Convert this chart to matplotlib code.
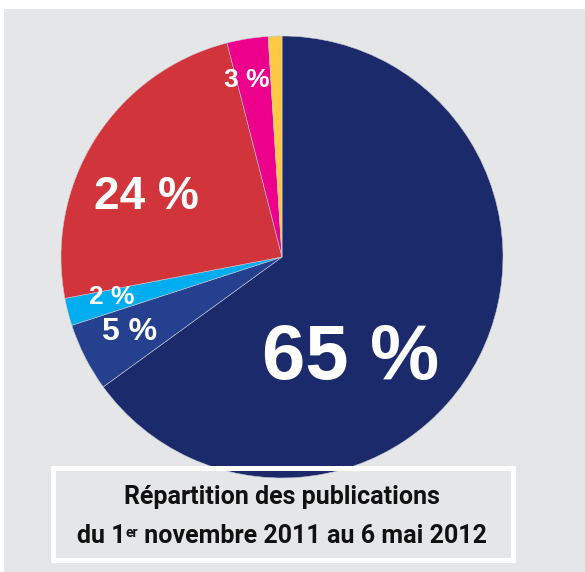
import matplotlib
matplotlib.use("Agg")
import matplotlib.pyplot as plt
from matplotlib.patches import Rectangle

# data
shares = [65, 5, 2, 24, 3, 1]
labels = ["65 %", "5 %", "2 %", "24 %", "3 %", ""]
colors = ["#1b2a6b", "#24408f", "#00adee", "#d2343c", "#ec008c", "#ffc845"]
title_line1 = "Répartition des publications"
title_line2 = ["du 1", "er", " novembre 2011 au 6 mai 2012"]

W, H = 585, 572
bg = "#e5e6e8"

fig = plt.figure(figsize=(W / 100, H / 100), dpi=100)
fig.patch.set_facecolor("white")
ax = fig.add_axes([0, 0, 1, 1])
ax.set_xlim(0, W)
ax.set_ylim(0, H)
ax.set_aspect("equal")
ax.axis("off")

# grey panel (white strip at top and left)
ax.add_patch(Rectangle((4, 0), W - 4, H - 9, facecolor=bg, edgecolor="none", zorder=0))

ax.pie(shares, colors=colors, startangle=90, counterclock=False,
       center=(282, H - 257), radius=221,
       wedgeprops=dict(linewidth=0.4, edgecolor="#c8c8d0"))
ax.set_xlim(0, W)
ax.set_ylim(0, H)

# labels (x, y in pixel coords from top, font size)
lab_pos = [(351, 359, 56), (130, 332, 23), (112, 297, 19), (146, 197, 33), (247, 80, 19)]
for (x, y, fs), t in zip(lab_pos, labels):
    ax.text(x, H - y, t, color="white", fontsize=fs, fontweight="bold",
            family=["Liberation Sans", "DejaVu Sans"], ha="center", va="center")

# caption box
ax.add_patch(Rectangle((52.5, H - 559.5), 460, 92, facecolor="none",
                       edgecolor="white", linewidth=3.6, zorder=3))
cap_font = ["Roboto", "DejaVu Sans"]
cap_fs = 18
ax.text(282, H - 497, title_line1, fontsize=cap_fs, fontweight="bold", family=cap_font,
        ha="center", va="center", color="#111111")

# second line built from pieces so the "er" can be a small superscript
r = fig.canvas.get_renderer()
sizes = [cap_fs, 10, cap_fs]
parts = []
for t, fs in zip(title_line2, sizes):
    parts.append(ax.text(0, 0, t, fontsize=fs, fontweight="bold", family=cap_font,
                         ha="left", va="baseline", color="#111111"))
widths = [p.get_window_extent(r).width for p in parts]
x0 = 282 - sum(widths) / 2
base = H - 543
for p, w, dy in zip(parts, widths, [0, 6, 0]):
    p.set_position((x0, base + dy))
    x0 += w

fig.savefig("out.png", dpi=100, facecolor=fig.get_facecolor())
